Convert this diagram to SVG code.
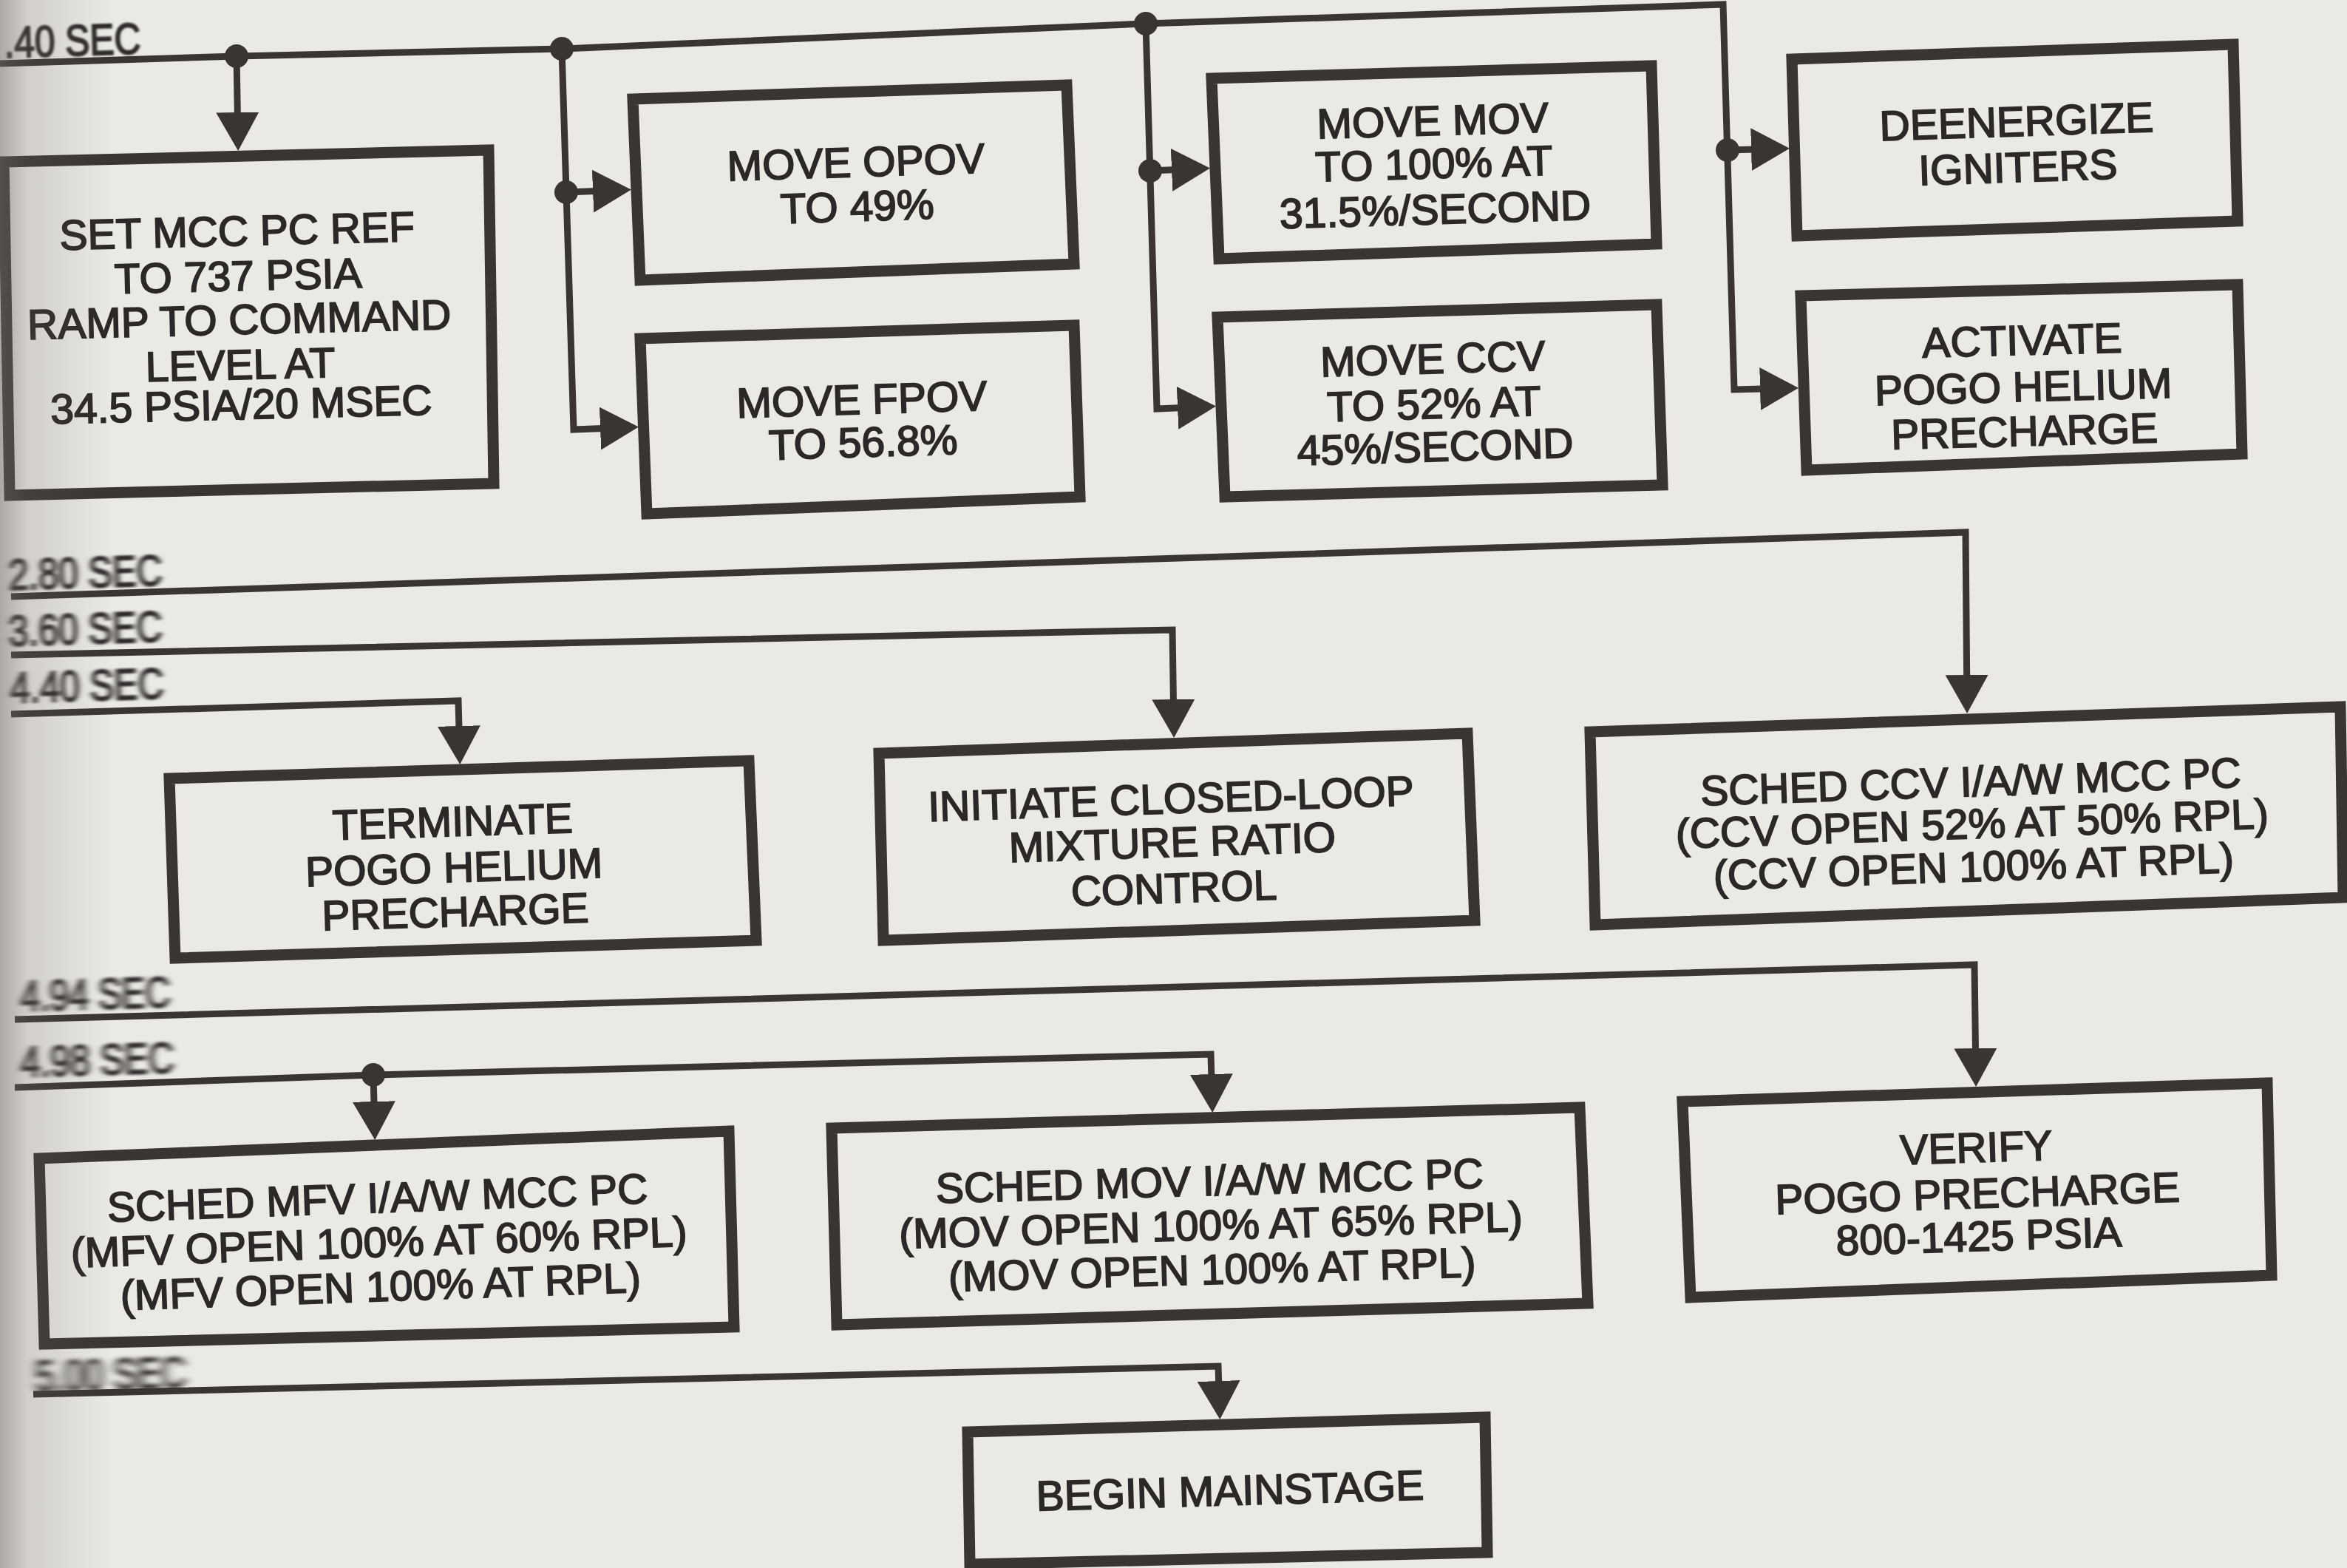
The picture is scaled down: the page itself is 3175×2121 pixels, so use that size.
<svg xmlns="http://www.w3.org/2000/svg" width="3175" height="2121" viewBox="0 0 3175 2121">
  <defs>
    <style>
      .box { fill: none; stroke: #3a3433; stroke-width: 15; stroke-linejoin: miter; }
      .wire { fill: none; stroke: #3a3433; stroke-width: 9; stroke-linejoin: miter; }
      .arr { marker-end: url(#tri); }
      .dot { fill: #3a3433; }
      .t { font-family: "Liberation Sans", Arial, sans-serif; font-size: 57px; fill: #2c2827; stroke: #2c2827; stroke-width: 1.8; text-anchor: middle; }
      .lbl { font-family: "Liberation Sans", Arial, sans-serif; font-size: 60px; fill: #2f2b2a; stroke: #2f2b2a; stroke-width: 2.2; }
    </style>
    <marker id="tri" markerUnits="userSpaceOnUse" markerWidth="54" markerHeight="62" viewBox="0 0 54 62" refX="42" refY="31" orient="auto">
      <path d="M0,2 L52,31 L0,60 Z" fill="#3a3433"/>
    </marker>
    <linearGradient id="gutter" x1="0" y1="0" x2="1" y2="0">
      <stop offset="0" stop-color="#6e6964" stop-opacity="0.5"/>
      <stop offset="0.25" stop-color="#6e6964" stop-opacity="0.2"/>
      <stop offset="1" stop-color="#6e6964" stop-opacity="0"/>
    </linearGradient>
    <filter id="smearA" x="-10%" y="-30%" width="120%" height="160%"><feGaussianBlur stdDeviation="1.5 0.8"/></filter>
    <filter id="smearB" x="-10%" y="-30%" width="120%" height="160%"><feGaussianBlur stdDeviation="3.5 1"/></filter>
    <filter id="smearC" x="-10%" y="-30%" width="120%" height="160%"><feGaussianBlur stdDeviation="5 1.5"/></filter>
    <filter id="smearD" x="-10%" y="-30%" width="120%" height="160%"><feGaussianBlur stdDeviation="7 2"/></filter>
  </defs>

  <!-- paper -->
  <rect x="0" y="0" width="3175" height="2121" fill="#ebe9e4"/>

  <!-- time labels on the left margin -->
  <g id="time-labels">
    <text class="lbl" x="6" y="78" textLength="185" lengthAdjust="spacingAndGlyphs" transform="rotate(-1.7 6 78)" filter="url(#smearA)">.40 SEC</text>
    <text class="lbl" x="12" y="798" textLength="208" lengthAdjust="spacingAndGlyphs" transform="rotate(-1.7 12 798)" filter="url(#smearB)">2.80 SEC</text>
    <text class="lbl" x="12" y="874" textLength="208" lengthAdjust="spacingAndGlyphs" transform="rotate(-1.7 12 874)" filter="url(#smearB)">3.60 SEC</text>
    <text class="lbl" x="14" y="951" textLength="208" lengthAdjust="spacingAndGlyphs" transform="rotate(-1.7 14 951)" filter="url(#smearB)">4.40 SEC</text>
    <text class="lbl" x="28" y="1368" textLength="203" lengthAdjust="spacingAndGlyphs" transform="rotate(-1.6 28 1368)" filter="url(#smearC)">4.94 SEC</text>
    <text class="lbl" x="28" y="1457" textLength="208" lengthAdjust="spacingAndGlyphs" transform="rotate(-1.6 28 1457)" filter="url(#smearC)">4.98 SEC</text>
    <text class="lbl" x="48" y="1882" textLength="204" lengthAdjust="spacingAndGlyphs" transform="rotate(-1.5 48 1882)" filter="url(#smearD)">5.00 SEC</text>
  </g>

  <!-- connectors -->
  <g id="connectors">
    <!-- 2.40 s bus -->
    <path class="wire arr" d="M0,86 L320,76 L760,66 L1550,32 L2331,6 L2346,527 L2423,525"/>
    <path class="wire arr" d="M320,76 L322,194"/>
    <path class="wire arr" d="M760,66 L776,581 L854,578"/>
    <path class="wire arr" d="M766,260 L844,257"/>
    <path class="wire arr" d="M1550,32 L1565,553 L1635,550"/>
    <path class="wire arr" d="M1556,231 L1627,228"/>
    <path class="wire arr" d="M2337,203 L2411,201"/>
    <!-- 2.80 / 3.60 / 4.40 s -->
    <path class="wire arr" d="M15,807 L2659,720 L2661,955"/>
    <path class="wire arr" d="M15,886 L1586,852 L1588,988"/>
    <path class="wire arr" d="M15,966 L620,948 L622,1024"/>
    <!-- 4.94 / 4.98 / 5.00 s -->
    <path class="wire arr" d="M20,1379 L2671,1305 L2673,1460"/>
    <path class="wire arr" d="M20,1471 L505,1454 L1638,1426 L1640,1495"/>
    <path class="wire arr" d="M505,1454 L507,1532"/>
    <path class="wire arr" d="M45,1886 L1648,1848 L1650,1910"/>
    <!-- junction dots -->
    <circle class="dot" cx="320" cy="76" r="16"/>
    <circle class="dot" cx="760" cy="66" r="16"/>
    <circle class="dot" cx="766" cy="260" r="16"/>
    <circle class="dot" cx="1550" cy="32" r="16"/>
    <circle class="dot" cx="1556" cy="231" r="16"/>
    <circle class="dot" cx="2337" cy="203" r="16"/>
    <circle class="dot" cx="505" cy="1454" r="16"/>
  </g>

  <!-- nodes -->
  <g id="set-mcc-pc-ref">
    <polygon class="box" points="5,219 661,203 668,654 13,670"/>
    <g transform="rotate(-1.4 324 450)">
      <text class="t" x="324" y="332">SET MCC PC REF</text>
      <text class="t" x="324" y="393">TO 737 PSIA</text>
      <text class="t" x="324" y="452">RAMP TO COMMAND</text>
      <text class="t" x="324" y="513">LEVEL AT</text>
      <text class="t" x="324" y="567">34.5 PSIA/20 MSEC</text>
    </g>
  </g>

  <g id="move-opov">
    <polygon class="box" points="856,134 1443,115 1453,357 866,379"/>
    <g transform="rotate(-1.8 1159 260)">
      <text class="t" x="1159" y="239">MOVE OPOV</text>
      <text class="t" x="1159" y="299">TO 49%</text>
    </g>
  </g>

  <g id="move-fpov">
    <polygon class="box" points="866,458 1453,440 1461,672 875,695"/>
    <g transform="rotate(-1.75 1167 580)">
      <text class="t" x="1167" y="560">MOVE FPOV</text>
      <text class="t" x="1167" y="618">TO 56.8%</text>
    </g>
  </g>

  <g id="move-mov">
    <polygon class="box" points="1639,106 2234,89 2241,330 1649,350"/>
    <g transform="rotate(-1.65 1940 230)">
      <text class="t" x="1940" y="183">MOVE MOV</text>
      <text class="t" x="1940" y="241">TO 100% AT</text>
      <text class="t" x="1940" y="303">31.5%/SECOND</text>
    </g>
  </g>

  <g id="move-ccv">
    <polygon class="box" points="1647,429 2241,412 2249,656 1657,672"/>
    <g transform="rotate(-1.65 1940 550)">
      <text class="t" x="1940" y="505">MOVE CCV</text>
      <text class="t" x="1940" y="566">TO 52% AT</text>
      <text class="t" x="1940" y="624">45%/SECOND</text>
    </g>
  </g>

  <g id="deenergize-igniters">
    <polygon class="box" points="2424,80 3021,60 3027,299 2431,319"/>
    <g transform="rotate(-1.9 2729 200)">
      <text class="t" x="2729" y="184">DEENERGIZE</text>
      <text class="t" x="2729" y="246">IGNITERS</text>
    </g>
  </g>

  <g id="activate-pogo-precharge">
    <polygon class="box" points="2436,400 3027,385 3033,614 2444,636"/>
    <g transform="rotate(-1.5 2737 520)">
      <text class="t" x="2737" y="480">ACTIVATE</text>
      <text class="t" x="2737" y="543">POGO HELIUM</text>
      <text class="t" x="2737" y="603">PRECHARGE</text>
    </g>
  </g>

  <g id="terminate-pogo-precharge">
    <polygon class="box" points="229,1053 1013,1029 1023,1272 237,1296"/>
    <g transform="rotate(-1.75 614 1170)">
      <text class="t" x="614" y="1131">TERMINATE</text>
      <text class="t" x="614" y="1193">POGO HELIUM</text>
      <text class="t" x="614" y="1253">PRECHARGE</text>
    </g>
  </g>

  <g id="initiate-closed-loop">
    <polygon class="box" points="1189,1019 1985,992 1995,1245 1195,1272"/>
    <g transform="rotate(-1.9 1586 1140)">
      <text class="t" x="1586" y="1100">INITIATE CLOSED-LOOP</text>
      <text class="t" x="1586" y="1159">MIXTURE RATIO</text>
      <text class="t" x="1586" y="1221">CONTROL</text>
    </g>
  </g>

  <g id="sched-ccv">
    <polygon class="box" points="2151,990 3166,956 3170,1214 2158,1251"/>
    <g transform="rotate(-1.95 2668 1120)">
      <text class="t" x="2668" y="1077">SCHED CCV I/A/W MCC PC</text>
      <text class="t" x="2668" y="1134">(CCV OPEN 52% AT 50% RPL)</text>
      <text class="t" x="2668" y="1192">(CCV OPEN 100% AT RPL)</text>
    </g>
  </g>

  <g id="sched-mfv">
    <polygon class="box" points="53,1567 986,1530 993,1795 60,1818"/>
    <g transform="rotate(-2 513 1690)">
      <text class="t" x="513" y="1640">SCHED MFV I/A/W MCC PC</text>
      <text class="t" x="513" y="1700">(MFV OPEN 100% AT 60% RPL)</text>
      <text class="t" x="513" y="1760">(MFV OPEN 100% AT RPL)</text>
    </g>
  </g>

  <g id="sched-mov">
    <polygon class="box" points="1125,1526 2137,1498 2148,1763 1132,1792"/>
    <g transform="rotate(-1.6 1638 1660)">
      <text class="t" x="1638" y="1617">SCHED MOV I/A/W MCC PC</text>
      <text class="t" x="1638" y="1677">(MOV OPEN 100% AT 65% RPL)</text>
      <text class="t" x="1638" y="1737">(MOV OPEN 100% AT RPL)</text>
    </g>
  </g>

  <g id="verify-pogo-precharge">
    <polygon class="box" points="2276,1490 3067,1465 3073,1725 2287,1755"/>
    <g transform="rotate(-1.8 2675 1610)">
      <text class="t" x="2675" y="1572">VERIFY</text>
      <text class="t" x="2675" y="1634">POGO PRECHARGE</text>
      <text class="t" x="2675" y="1692">800-1425 PSIA</text>
    </g>
  </g>

  <g id="begin-mainstage">
    <polygon class="box" points="1309,1937 2009,1917 2012,2100 1312,2116"/>
    <text class="t" x="1664" y="2036" transform="rotate(-1.65 1664 2020)">BEGIN MAINSTAGE</text>
  </g>

  <!-- binding shadow along the inner margin -->
  <rect x="0" y="0" width="150" height="2121" fill="url(#gutter)"/>
</svg>
